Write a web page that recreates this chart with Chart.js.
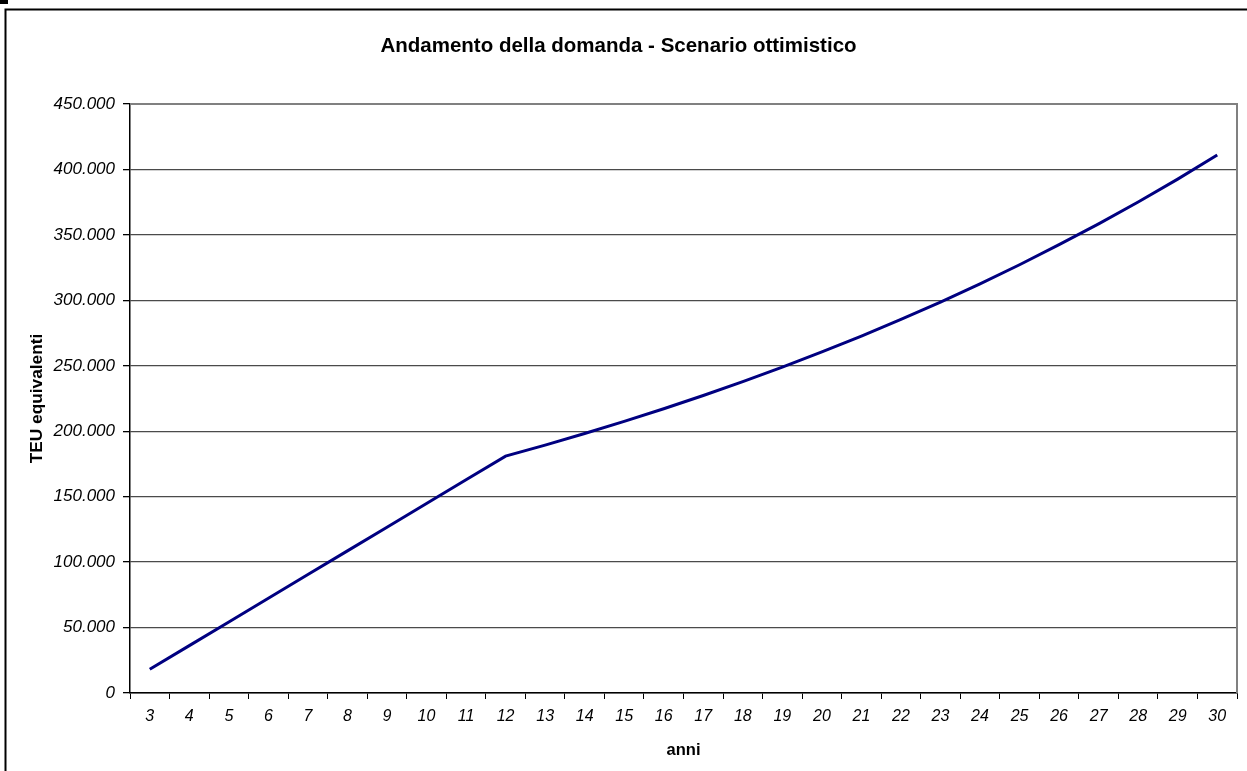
<!DOCTYPE html>
<html>
<head>
<meta charset="utf-8">
<script src="https://cdn.jsdelivr.net/npm/chart.js@4/dist/chart.umd.min.js"></script>
<style>
  html, body { margin: 0; padding: 0; background: #fff; }
  #wrap { position: relative; width: 1247px; height: 771px; }
  canvas { display: block; }
</style>
</head>
<body>
<div id="wrap"><canvas id="c" width="1247" height="771"></canvas></div>
<script>
// Anni dello scenario
const anni = [3, 4, 5, 6, 7, 8, 9, 10, 11, 12, 13, 14, 15, 16, 17, 18, 19, 20, 21, 22, 23, 24, 25, 26, 27, 28, 29, 30];
// Domanda in TEU equivalenti
const teu = [18100, 36200, 54300, 72400, 90500, 108600, 126700, 144800, 162900, 181000,
             189400, 198300, 207500, 217200, 227300, 237900, 249000, 260600, 272700, 285400,
             298700, 312600, 327200, 342500, 358400, 375100, 392600, 411000];
// Etichette asse valori
const yTicks = [0, 50000, 100000, 150000, 200000, 250000, 300000, 350000, 400000, 450000];

const titolo = 'Andamento della domanda - Scenario ottimistico';
const titoloY = 'TEU equivalenti';
const titoloX = 'anni';

function formatIt(v) {
  return String(Math.round(v)).replace(/\B(?=(\d{3})+(?!\d))/g, '.');
}

const FONT = 'Arial, "Liberation Sans", sans-serif';

// Cornice esterna e bordo dell'area del grafico
const framePlugin = {
  id: 'frame',
  beforeDraw(chart) {
    const ctx = chart.ctx;
    ctx.save();
    ctx.fillStyle = '#fff';
    ctx.fillRect(0, 0, chart.width, chart.height);
    ctx.strokeStyle = '#000';
    ctx.lineWidth = 2;
    ctx.strokeRect(5.5, 9.5, 1400, 1000);
    ctx.fillStyle = '#000';
    ctx.fillRect(0, 0, 8, 4);
    ctx.restore();
  },
  afterDraw(chart) {
    const a = chart.chartArea;
    const ctx = chart.ctx;
    ctx.save();
    ctx.strokeStyle = '#808080';
    ctx.lineWidth = 2;
    ctx.beginPath();
    ctx.moveTo(a.left, a.top);
    ctx.lineTo(a.right, a.top);
    ctx.lineTo(a.right, a.bottom);
    ctx.stroke();
    ctx.restore();
  }
};

new Chart(document.getElementById('c'), {
  type: 'line',
  data: {
    labels: anni,
    datasets: [{
      data: teu,
      borderColor: '#000080',
      borderWidth: 3,
      pointRadius: 0,
      tension: 0,
      fill: false
    }]
  },
  options: {
    responsive: false,
    animation: false,
    layout: { padding: { left: 0, right: 10, top: 0, bottom: 0 } },
    plugins: {
      legend: { display: false },
      tooltip: { enabled: false },
      title: {
        display: true,
        text: titolo,
        color: '#000',
        font: { family: FONT, size: 20.5, weight: 'bold' },
        padding: { top: 33.7, bottom: 45.7 }
      }
    },
    scales: {
      x: {
        type: 'category',
        offset: true,
        afterFit(scale) { scale.height = 78; },
        grid: {
          offset: true,
          drawOnChartArea: false,
          drawTicks: true,
          tickLength: 6,
          color: '#000',
          lineWidth: 1
        },
        border: { display: true, color: '#000', width: 1.5 },
        ticks: {
          color: '#000',
          font: { family: FONT, size: 16, style: 'italic' },
          padding: 8,
          maxRotation: 0,
          autoSkip: false
        },
        title: {
          display: true,
          text: titoloX,
          color: '#000',
          font: { family: FONT, size: 16.5, weight: 'bold' },
          padding: { top: 0, bottom: 11 }
        }
      },
      y: {
        min: 0,
        max: 450000,
        afterFit(scale) { scale.width = 130; },
        afterBuildTicks(scale) { scale.ticks = yTicks.map(v => ({ value: v })); },
        grid: {
          color: (c) => (c.tick && c.tick.value === 450000) ? '#808080' : '#4a4a4a',
          tickColor: '#000',
          lineWidth: 1.3,
          drawTicks: true,
          tickLength: 7
        },
        border: { display: true, color: '#000', width: 1.5 },
        ticks: {
          color: '#000',
          font: { family: FONT, size: 17, style: 'italic' },
          padding: 8,
          callback: (v) => formatIt(v)
        },
        title: {
          display: true,
          text: titoloY,
          color: '#000',
          font: { family: FONT, size: 17.3, weight: 'bold' },
          padding: { top: 26.5, bottom: 0 }
        }
      }
    }
  },
  plugins: [framePlugin]
});
</script>
</body>
</html>
